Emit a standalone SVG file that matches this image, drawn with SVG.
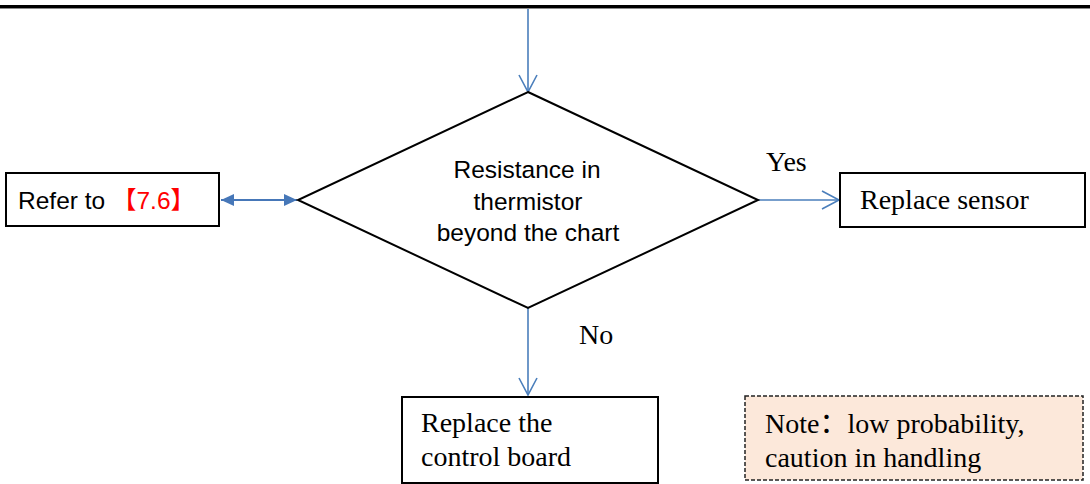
<svg xmlns="http://www.w3.org/2000/svg" width="1090" height="484" viewBox="0 0 1090 484">
  <style>
    .box { fill: #ffffff; stroke: #000000; stroke-width: 2; }
    .note { fill: #fce8da; stroke: #222222; stroke-width: 1.5; stroke-dasharray: 4 2; }
    .flow { fill: none; stroke: #4a7ebb; stroke-width: 1.6; }
    .both { fill: none; stroke: #4677b8; stroke-width: 2.2; }
    .sans { font-family: "Liberation Sans", "Noto Sans CJK SC", sans-serif; font-size: 24.5px; fill: #000000; }
    .serif { font-family: "Liberation Serif", "Noto Sans CJK SC", serif; font-size: 28px; fill: #000000; }
    .red { fill: #ff0000; }
  </style>
  <defs>
    <marker id="open" viewBox="0 0 20 20" refX="18" refY="10" markerWidth="20" markerHeight="20" markerUnits="userSpaceOnUse" orient="auto">
      <path d="M1,1 L18,10 L1,19" fill="none" stroke="#4a7ebb" stroke-width="1.6"/>
    </marker>
    <marker id="solid" viewBox="0 0 14 14" refX="13" refY="7" markerWidth="14" markerHeight="14" markerUnits="userSpaceOnUse" orient="auto-start-reverse">
      <path d="M0,1 L13,7 L0,13 Z" fill="#4677b8"/>
    </marker>
  </defs>

  <!-- page rule at the top -->
  <rect x="0" y="5" width="1090" height="3" fill="#000000"/>
  <line x1="0" y1="8.5" x2="1090" y2="8.5" stroke="#8a8a8a" stroke-width="1"/>

  <!-- connectors -->
  <g id="connectors">
    <line class="flow" x1="528" y1="9" x2="528" y2="92" marker-end="url(#open)"/>
    <line class="both" x1="221" y1="200" x2="297" y2="200" marker-start="url(#solid)" marker-end="url(#solid)"/>
    <line class="flow" x1="758" y1="200" x2="839" y2="200" marker-end="url(#open)"/>
    <line class="flow" x1="528" y1="308" x2="528" y2="395" marker-end="url(#open)"/>
    <text class="serif" x="766" y="171">Yes</text>
    <text class="serif" x="579" y="344">No</text>
  </g>

  <!-- decision -->
  <g id="decision">
    <polygon points="528,92 758,200 528,308 298,200" fill="#ffffff" stroke="#000000" stroke-width="2"/>
    <text class="sans" text-anchor="middle" x="527" y="178">Resistance in</text>
    <text class="sans" text-anchor="middle" x="528" y="210">thermistor</text>
    <text class="sans" text-anchor="middle" x="528" y="241">beyond the chart</text>
  </g>

  <!-- cross reference -->
  <g id="refer">
    <rect class="box" x="6" y="173" width="213" height="53"/>
    <text class="sans" x="18" y="209" font-size="26.5">Refer to <tspan class="red">【7.6】</tspan></text>
  </g>

  <!-- yes branch -->
  <g id="replace-sensor">
    <rect class="box" x="840" y="173" width="245" height="54"/>
    <text class="serif" x="860" y="209">Replace sensor</text>
  </g>

  <!-- no branch -->
  <g id="replace-board">
    <rect class="box" x="402" y="397" width="256" height="86"/>
    <text class="serif" x="421" y="432">Replace the</text>
    <text class="serif" x="421" y="466">control board</text>
  </g>

  <!-- note -->
  <g id="note">
    <rect class="note" x="745" y="396" width="338" height="84"/>
    <text class="serif" x="765" y="433">Note：low probability,</text>
    <text class="serif" x="765" y="467">caution in handling</text>
  </g>
</svg>
